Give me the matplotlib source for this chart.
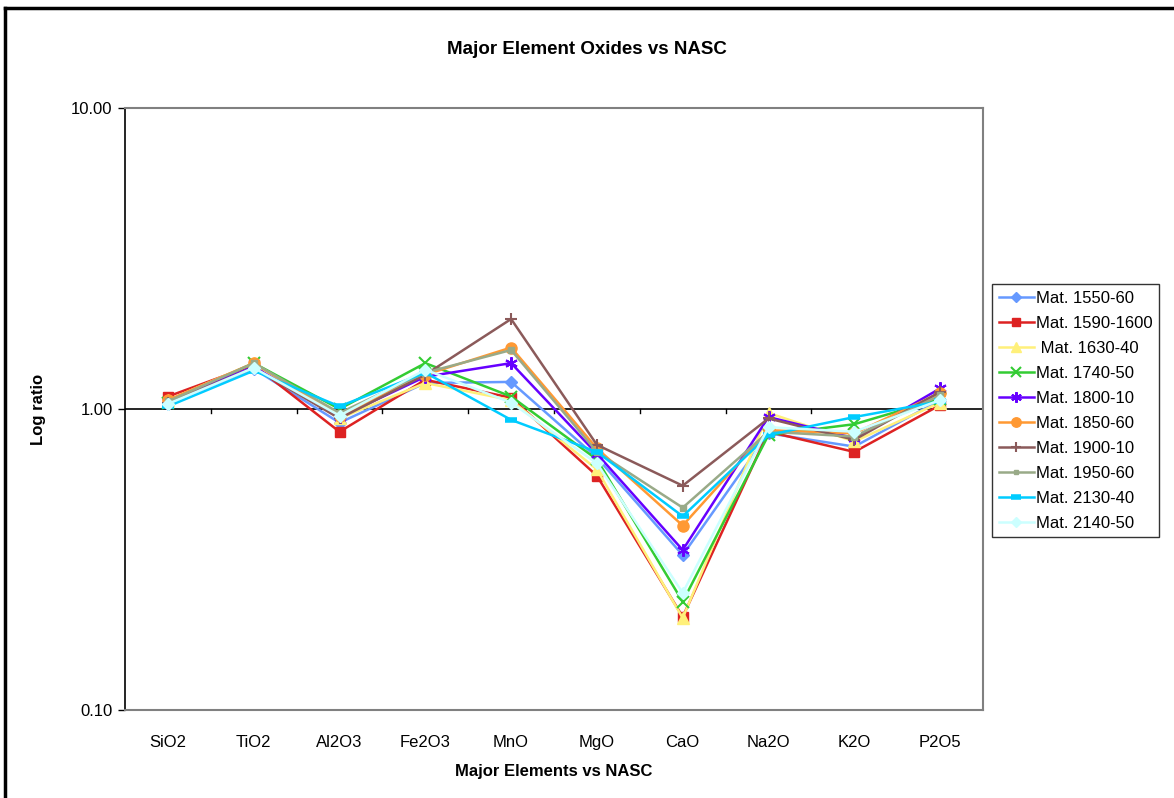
import matplotlib
matplotlib.use("Agg")
import matplotlib.pyplot as plt
from matplotlib.lines import Line2D

plt.rcParams['font.family'] = ['Liberation Sans', 'DejaVu Sans']

# oxide ratios against NASC
elements = ["SiO2", "TiO2", "Al2O3", "Fe2O3", "MnO", "MgO", "CaO", "Na2O", "K2O", "P2O5"]

labels = ["Mat. 1550-60", "Mat. 1590-1600", " Mat. 1630-40", "Mat. 1740-50", "Mat. 1800-10",
          "Mat. 1850-60", "Mat. 1900-10", "Mat. 1950-60", "Mat. 2130-40", "Mat. 2140-50"]

mat_1550 = [1.04, 1.36, 0.90, 1.22, 1.23, 0.69, 0.327, 0.83, 0.75, 1.07]
mat_1590 = [1.10, 1.40, 0.84, 1.25, 1.09, 0.60, 0.204, 0.84, 0.72, 1.03]
mat_1630 = [1.07, 1.42, 0.93, 1.22, 1.07, 0.63, 0.202, 0.97, 0.78, 1.05]
mat_1740 = [1.05, 1.42, 1.00, 1.42, 1.10, 0.68, 0.229, 0.82, 0.89, 1.08]
mat_1800 = [1.06, 1.38, 0.94, 1.28, 1.42, 0.71, 0.34, 0.94, 0.80, 1.17]
mat_1850 = [1.07, 1.42, 0.95, 1.30, 1.60, 0.74, 0.41, 0.85, 0.83, 1.13]
mat_1900 = [1.05, 1.37, 0.93, 1.30, 1.99, 0.76, 0.556, 0.93, 0.79, 1.14]
mat_1950 = [1.06, 1.42, 0.97, 1.32, 1.57, 0.72, 0.47, 0.84, 0.81, 1.11]
mat_2130 = [1.02, 1.34, 1.02, 1.32, 0.92, 0.72, 0.44, 0.82, 0.94, 1.06]
mat_2140 = [1.04, 1.37, 0.95, 1.35, 1.05, 0.66, 0.245, 0.87, 0.84, 1.07]

series = [mat_1550, mat_1590, mat_1630, mat_1740, mat_1800,
          mat_1850, mat_1900, mat_1950, mat_2130, mat_2140]

colors = ["#6699FF", "#DD2222", "#FFF07A", "#33CC33", "#6600FF",
          "#FF9933", "#8B5A5A", "#99AA88", "#00CCFF", "#CCFFFF"]
markers = ["D", "s", "^", "x", (6, 2, 0), "o", "+", "s", "_", "D"]
msizes = [6, 7, 8, 8, 9, 8, 9, 4, 8, 6]
mews = [1, 1, 1, 1.5, 1.5, 1, 1.5, 1, 4, 1]

fig = plt.figure(figsize=(11.74, 7.98), dpi=100)
ax = fig.add_axes([0.1065, 0.1103, 0.7308, 0.7544])

x = list(range(len(elements)))
for vals, lab, c, m, ms, mew in zip(series, labels, colors, markers, msizes, mews):
    ax.plot(x, vals, color=c, marker=m, markersize=ms, markeredgewidth=mew,
            markeredgecolor=c, linewidth=1.8, label=lab)

ax.set_yscale("log")
ax.set_ylim(0.1, 10)
ax.set_xlim(-0.5, len(elements) - 0.5)
ax.set_yticks([0.1, 1, 10])
ax.set_yticklabels(["0.10", "1.00", "10.00"])
ax.minorticks_off()
ax.tick_params(axis="y", labelsize=12, length=5, width=1, direction="out", pad=4)
ax.set_xticks(x)
ax.set_xticklabels(elements)
ax.tick_params(axis="x", labelsize=12, length=0, pad=18)

# category axis crosses at 1.00
ax.axhline(1.0, color="black", linewidth=1.2, zorder=1)
for b in range(1, len(elements)):
    ax.plot([b - 0.5, b - 0.5], [1.0, 0.967], color="black", linewidth=1, zorder=1)

for s in ["top", "right", "bottom"]:
    ax.spines[s].set_color("#808080")
    ax.spines[s].set_linewidth(1.5)
ax.spines["left"].set_color("black")
ax.spines["left"].set_linewidth(1.2)

ax.set_xlabel("Major Elements vs NASC", fontsize=12, fontweight="bold", labelpad=10)
ax.set_ylabel("Log ratio", fontsize=12, fontweight="bold", labelpad=18)
fig.text(0.5, 0.938, "Major Element Oxides vs NASC", fontsize=13.5, fontweight="bold",
         ha="center", va="center")

leg = fig.legend(loc="upper left", bbox_to_anchor=(992 / 1174, 1 - 284 / 798),
                 fontsize=12, frameon=True, fancybox=False, handlelength=2.1,
                 borderpad=0.4, labelspacing=0.6, handletextpad=0.15,
                 borderaxespad=0, markerscale=0.85)
leg.get_frame().set_edgecolor("black")
leg.get_frame().set_linewidth(1)

# outer chart frame (left and top edges visible)
fig.add_artist(Line2D([5 / 1174, 5 / 1174], [0, 1 - 8 / 798], color="black", linewidth=2.5))
fig.add_artist(Line2D([5 / 1174, 1], [1 - 8 / 798, 1 - 8 / 798], color="black", linewidth=2.5))

fig.savefig("out.png", dpi=100, facecolor="white")
